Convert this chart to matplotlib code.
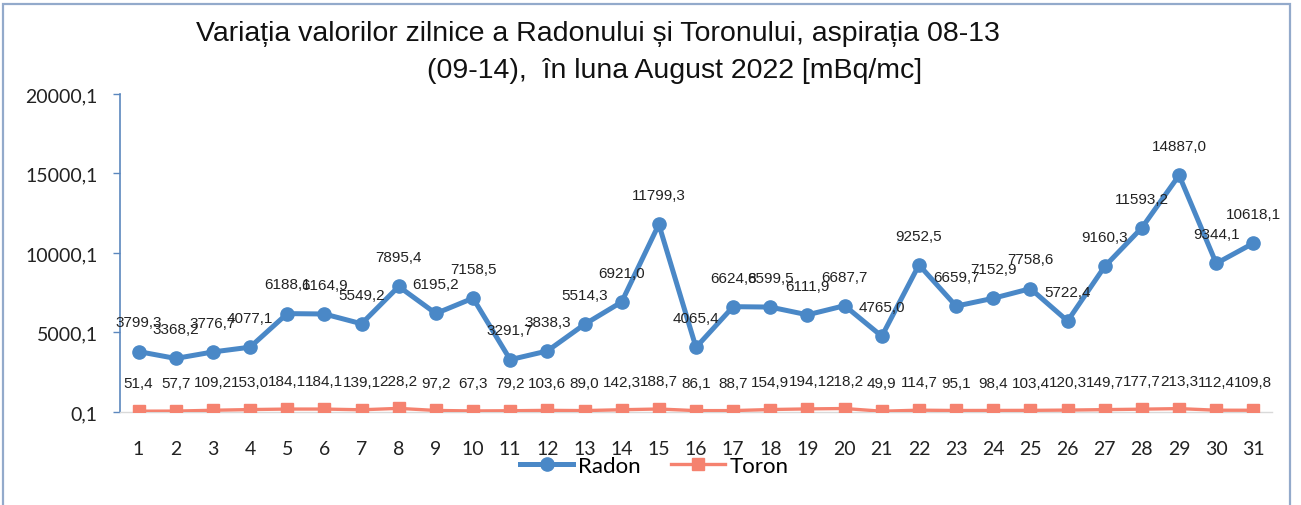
import matplotlib
matplotlib.use("Agg")
import matplotlib.pyplot as plt
from matplotlib.patches import Rectangle

# Daily values, August 2022
days = list(range(1, 32))
radon = [3799.3, 3368.2, 3776.7, 4077.1, 6188.1, 6164.9, 5549.2, 7895.4, 6195.2, 7158.5,
         3291.7, 3838.3, 5514.3, 6921.0, 11799.3, 4065.4, 6624.8, 6599.5, 6111.9, 6687.7,
         4765.0, 9252.5, 6659.7, 7152.9, 7758.6, 5722.4, 9160.3, 11593.2, 14887.0, 9344.1,
         10618.1]
toron = [51.4, 57.7, 109.2, 153.0, 184.1, 184.1, 139.1, 228.2, 97.2, 67.3,
         79.2, 103.6, 89.0, 142.3, 188.7, 86.1, 88.7, 154.9, 194.1, 218.2,
         49.9, 114.7, 95.1, 98.4, 103.4, 120.3, 149.7, 177.7, 213.3, 112.4,
         109.8]
y_ticks = [0.1, 5000.1, 10000.1, 15000.1, 20000.1]

title_1 = "Variația valorilor zilnice a Radonului și Toronului, aspirația 08-13"
title_2 = "(09-14),  în luna August 2022 [mBq/mc]"

RADON_C = '#4A88C7'
TORON_C = '#F5826F'
AXIS_C = '#5B87BE'
SANS = ['Liberation Sans', 'DejaVu Sans']


def fmt(v):
    return f"{v:.1f}".replace('.', ',')


fig = plt.figure(figsize=(13.01, 5.06), dpi=100)
ax = fig.add_axes([120 / 1301, 1 - 413 / 506, (1272 - 120) / 1301, (413 - 95) / 506])

# chart frame
fig.patches.append(Rectangle((3 / 1301, -0.02), 1287 / 1301, 1 - 5 / 506 + 0.02,
                             transform=fig.transFigure, fill=False,
                             edgecolor='#93AACB', linewidth=1.6))

ax.plot(days, toron, color=TORON_C, lw=2.4, marker='s', ms=8.5, zorder=3, label='Toron')
ax.plot(days, radon, color=RADON_C, lw=3.6, marker='o', ms=9.5, zorder=4, label='Radon')

for d, v in zip(days, radon):
    ax.annotate(fmt(v), (d, v), xytext=(0, 21), textcoords='offset points',
                ha='center', va='center', fontsize=11, color='#222222',
                family=SANS, zorder=6)
for d, v in zip(days, toron):
    ax.annotate(fmt(v), (d, v), xytext=(0, 20), textcoords='offset points',
                ha='center', va='center', fontsize=11, color='#222222',
                family=SANS, zorder=6)

ax.set_xlim(0.5, 31.5)
ax.set_ylim(0.1, 20000.1)
ax.set_xticks(days)
ax.set_xticklabels([str(d) for d in days], family='Lato', fontsize=14, color='#222222')
ax.set_yticks(y_ticks)
ax.set_yticklabels([fmt(v) for v in y_ticks], family='Lato', fontsize=14, color='#222222')
ax.tick_params(axis='x', length=0, pad=20)
ax.tick_params(axis='y', length=5, width=1, color=AXIS_C, pad=11)

for s in ['top', 'right']:
    ax.spines[s].set_visible(False)
ax.spines['left'].set_color(AXIS_C)
ax.spines['left'].set_linewidth(1.2)
ax.spines['bottom'].set_color('#D9D9D9')
ax.spines['bottom'].set_linewidth(1.0)
ax.patch.set_alpha(0)

fig.text(598 / 1301, 1 - 34 / 506, title_1, ha='center', va='center', fontsize=20.5,
         family=SANS, color='#111111')
fig.text(675 / 1301, 1 - 71 / 506, title_2, ha='center', va='center', fontsize=20.5,
         family=SANS, color='#111111')

handles, labels = ax.get_legend_handles_labels()
fig.legend(handles[::-1], labels[::-1], loc='center', bbox_to_anchor=(654 / 1301, 1 - 467 / 506),
           ncol=2, frameon=False, prop={'family': 'Lato', 'size': 16},
           handlelength=2.4, handletextpad=0.2, columnspacing=1.4)

fig.savefig('out.png', dpi=100, facecolor='white')
